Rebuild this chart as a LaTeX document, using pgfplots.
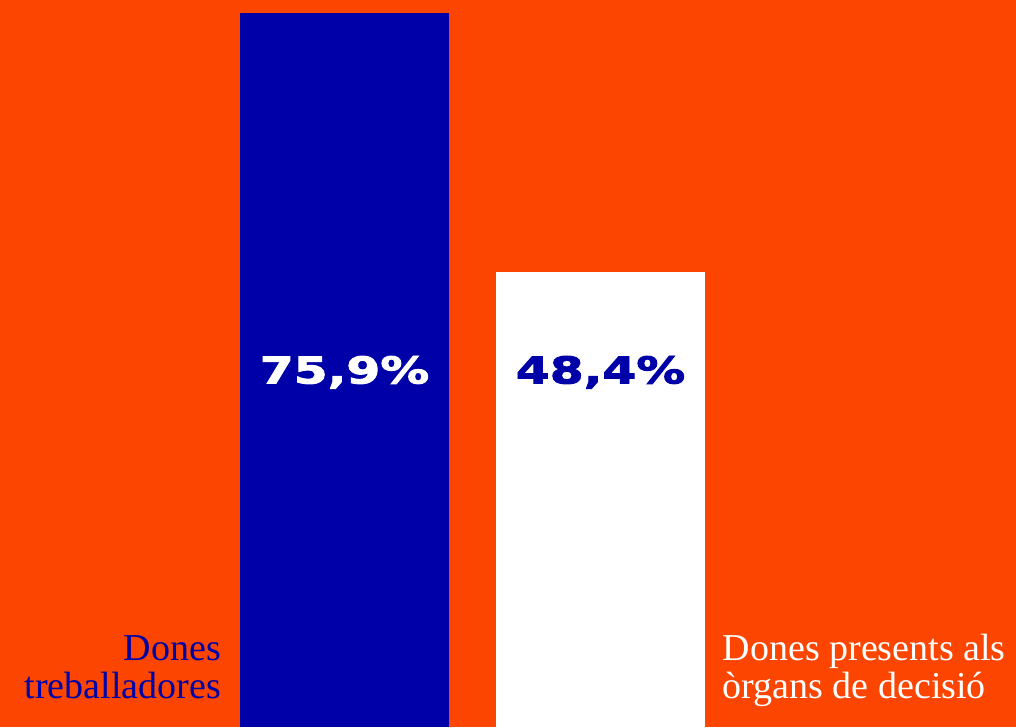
\documentclass[border=0pt]{standalone}
\usepackage{pgfplots}
\pgfplotsset{compat=1.18}
\usepackage{fontspec}
\setmainfont{Liberation Serif}
\newfontfamily\numfont[FakeStretch=1.32,FakeBold=2.5]{DejaVu Sans Bold}
\definecolor{bgor}{HTML}{FC4500}
\definecolor{dblue}{HTML}{0000A8}
\begin{document}
\begin{tikzpicture}
\begin{axis}[
  scale only axis, width=1016pt, height=727pt,
  xmin=-1.3457, xmax=2.623, ymin=0, ymax=77.28,
  axis line style={draw=none}, ticks=none,
  axis background/.style={fill=bgor},
  clip=false,
]
\addplot[ybar, bar width=0.8164, fill=dblue, draw=none] coordinates {(0,75.9)};
\addplot[ybar, bar width=0.8164, fill=white, draw=none] coordinates {(1,48.4)};
\node[text=white, font=\numfont\fontsize{37}{40}\selectfont] at (axis cs:0,37.7) {75,9\%};
\node[text=dblue, font=\numfont\fontsize{37}{40}\selectfont] at (axis cs:1,37.7) {48,4\%};
\node[text=dblue, anchor=base east, align=right, font=\fontsize{38}{38}\selectfont, inner sep=0pt] at (axis cs:-0.482,3.05) {Dones\\treballadores};
\node[text=white, anchor=base west, align=left, font=\fontsize{38}{38}\selectfont, inner sep=0pt] at (axis cs:1.477,3.05) {Dones presents als\\òrgans de decisió};
\end{axis}
\end{tikzpicture}
\end{document}
